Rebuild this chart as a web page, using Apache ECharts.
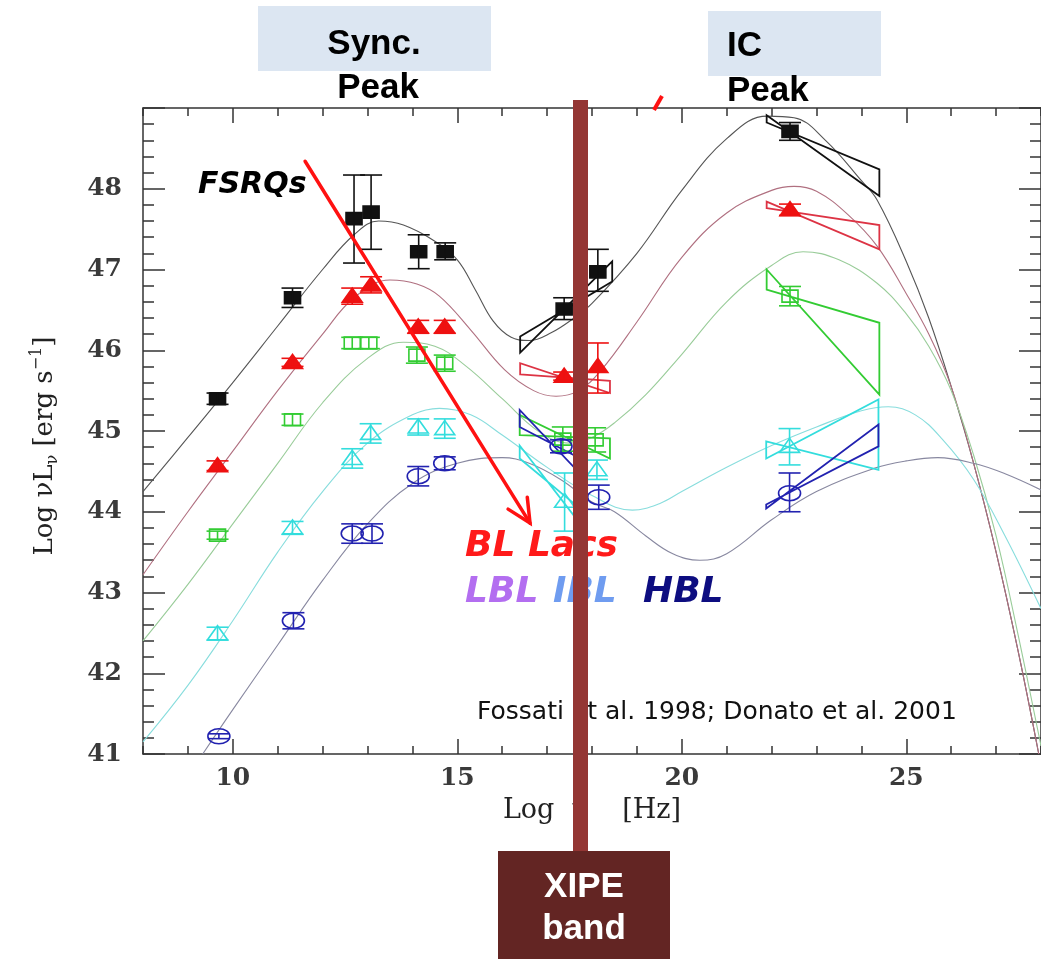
<!DOCTYPE html>
<html>
<head>
<meta charset="utf-8">
<script src="https://cdn.jsdelivr.net/npm/echarts@6/dist/echarts.min.js"></script>
<style>
html,body{margin:0;padding:0;background:#fff;}
#chart{width:1041px;height:959px;}
</style>
</head>
<body>
<div id="chart"></div>
<script>
// ---------- axis ranges / ticks ----------
const X_MIN = 8, X_MAX = 28;
const Y_MIN = 41, Y_MAX = 49;
const X_MAJOR = [10, 15, 20, 25];
const Y_LABELS = [41, 42, 43, 44, 45, 46, 47, 48];

// ---------- data points: [logNu, logL, low, high] ----------
const BLACK_PTS = [[9.66,45.40,45.33,45.47],[11.33,46.65,46.53,46.77],[12.70,47.63,47.08,48.17],[13.08,47.71,47.25,48.17],[14.14,47.22,47.01,47.43],[14.73,47.22,47.12,47.33],[17.38,46.51,46.38,46.65],[18.13,46.97,46.73,47.25],[22.41,48.71,48.60,48.82]];
const RED_PTS = [[9.66,44.57,44.51,44.63],[11.33,45.85,45.80,45.90],[12.66,46.67,46.57,46.77],[13.08,46.81,46.71,46.91],[14.13,46.29,46.21,46.37],[14.72,46.29,46.21,46.37],[17.38,45.68,45.63,45.73],[18.13,45.80,45.47,46.09],[22.41,47.74,47.67,47.81]];
const GREEN_PTS = [[9.66,43.71,43.66,43.76],[11.33,45.14,45.07,45.21],[12.66,46.09,46.02,46.16],[13.03,46.09,46.02,46.16],[14.10,45.94,45.84,46.04],[14.72,45.84,45.74,45.94],[17.35,44.90,44.75,45.05],[18.07,44.89,44.74,45.04],[22.41,46.67,46.55,46.79]];
const CYAN_PTS = [[9.66,42.49,42.41,42.57],[11.33,43.80,43.72,43.88],[12.66,44.66,44.54,44.78],[13.07,44.97,44.85,45.09],[14.13,45.05,44.95,45.15],[14.72,45.03,44.91,45.15],[17.39,44.13,43.76,44.48],[18.11,44.52,44.40,44.64],[22.40,44.81,44.58,45.03]];
const BLUE_PTS = [[9.69,41.22,41.19,41.25],[11.35,42.65,42.55,42.75],[12.66,43.73,43.61,43.85],[13.10,43.73,43.61,43.85],[14.13,44.44,44.32,44.56],[14.72,44.60,44.52,44.68],[17.31,44.81,44.73,44.89],[18.15,44.18,44.03,44.33],[22.40,44.23,44.00,44.48]];

// ---------- spectral "bow-ties": [xLeft, xRight, leftLow, leftHigh, rightLow, rightHigh] ----------
const BLACK_BOWTIES = [[16.40,18.45,45.97,46.17,46.85,47.10],[21.89,24.40,48.82,48.91,47.91,48.24]];
const RED_BOWTIES   = [[16.40,18.40,45.70,45.84,45.47,45.62],[21.89,24.40,47.76,47.84,47.25,47.55]];
const GREEN_BOWTIES = [[16.39,18.40,44.95,45.20,44.66,44.91],[21.89,24.40,46.75,47.00,45.45,46.34]];
const CYAN_BOWTIES  = [[16.39,17.60,44.66,44.82,43.95,44.10],[21.88,24.38,44.66,44.87,44.52,45.39]];
const BLUE_BOWTIES  = [[16.39,17.60,45.05,45.26,44.55,44.70],[21.88,24.38,44.04,44.09,44.81,45.08]];

// ---------- model SED curves: [logNu, logL] ----------
const BLACK_CURVE = [[8,44.25],[9,44.92],[10,45.6],[11,46.3],[12,47.0],[12.7,47.43],[13.25,47.6],[13.8,47.55],[14.5,47.35],[15,47.12],[15.4,46.75],[15.8,46.36],[16.2,46.16],[16.6,46.12],[17.1,46.22],[17.6,46.4],[18,46.58],[19,47.2],[20,47.98],[21,48.62],[21.9,48.9],[22.5,48.88],[23.2,48.6],[24,48.1],[24.35,47.86],[25,47.1],[25.5,46.4],[26,45.55],[26.5,44.6],[27,43.5],[27.5,42.25],[27.95,41.0]];
const RED_CURVE = [[8,43.22],[9,44.0],[10,44.75],[11,45.5],[12,46.2],[12.7,46.65],[13.5,46.87],[14.1,46.82],[14.6,46.67],[15.3,46.25],[16.05,45.76],[16.7,45.5],[17.2,45.43],[17.7,45.5],[18.2,45.75],[19,46.35],[20,47.15],[21,47.7],[22,47.98],[22.5,48.03],[23,47.97],[23.7,47.68],[24.35,47.29],[25,46.7],[25.5,46.2],[26,45.55],[26.5,44.6],[27,43.5],[27.5,42.25],[27.95,41.0]];
const GREEN_CURVE = [[8,42.4],[9,43.1],[10,43.85],[11,44.6],[12,45.35],[13,45.9],[13.8,46.1],[14.5,46.05],[15.2,45.8],[16,45.4],[16.8,45.0],[17.5,44.85],[18,44.92],[18.5,45.1],[19.2,45.45],[20,45.95],[21,46.6],[22,47.05],[22.7,47.22],[23.5,47.12],[24.35,46.83],[25,46.45],[25.5,46.05],[26,45.5],[26.5,44.7],[27,43.7],[27.5,42.45],[28,41.1]];
const CYAN_CURVE = [[8,41.15],[9,41.85],[10,42.65],[11,43.5],[12,44.25],[13,44.85],[14,45.2],[14.6,45.28],[15.3,45.2],[16,44.95],[17,44.55],[18,44.2],[18.9,44.02],[19.5,44.1],[20,44.25],[21,44.55],[22,44.82],[23,45.05],[24,45.25],[24.6,45.3],[25.2,45.2],[25.8,44.9],[26.5,44.4],[27.2,43.7],[28,42.8]];
const BLUE_CURVE = [[9.33,41.0],[10,41.55],[11,42.35],[12,43.15],[13,43.85],[14,44.35],[15,44.6],[16,44.67],[16.6,44.6],[17.3,44.4],[18,44.12],[18.5,44.0],[19.2,43.7],[19.8,43.48],[20.4,43.4],[21,43.48],[22,43.9],[23,44.25],[24.3,44.54],[25,44.63],[25.7,44.67],[26.5,44.6],[27.2,44.47],[28,44.27]];

// ---------- annotation arrow (data coords) ----------
const ARROW = [[11.61, 48.34, 16.62, 43.86]];

const COL = {black:'#111111', red:'#ee1111', green:'#33cc33', cyan:'#33dddd', blue:'#2222b0'};

function pointSeries(data, color, shape, filled) {
  return {
    type: 'custom', coordinateSystem: 'cartesian2d', data: data, z: 6, clip: true,
    encode: {x: 0, y: 1},
    renderItem: function (params, api) {
      const x = api.value(0), y = api.value(1), lo = api.value(2), hi = api.value(3);
      const c = api.coord([x, y]), cl = api.coord([x, lo]), ch = api.coord([x, hi]);
      const cw = 11, ls = {stroke: color, lineWidth: 1.6};
      const kids = [];
      let mk;
      if (shape === 'rect') {
        mk = {type: 'rect', shape: {x: c[0] - 8, y: c[1] - 6, width: 16, height: 12}};
      } else if (shape === 'tri') {
        mk = {type: 'polygon', shape: {points: [[c[0] - 10, c[1] + 6], [c[0] + 10, c[1] + 6], [c[0], c[1] - 8]]}};
      } else {
        mk = {type: 'ellipse', shape: {cx: c[0], cy: c[1], rx: 11, ry: 7.5}};
      }
      mk.style = {fill: filled ? color : 'transparent', stroke: color, lineWidth: 1.6};
      kids.push(mk);
      kids.push({type: 'line', shape: {x1: c[0], y1: cl[1], x2: c[0], y2: ch[1]}, style: ls});
      kids.push({type: 'line', shape: {x1: c[0] - cw, y1: cl[1], x2: c[0] + cw, y2: cl[1]}, style: ls});
      kids.push({type: 'line', shape: {x1: c[0] - cw, y1: ch[1], x2: c[0] + cw, y2: ch[1]}, style: ls});
      return {type: 'group', children: kids};
    }
  };
}

function bowtieSeries(data, color) {
  return {
    type: 'custom', coordinateSystem: 'cartesian2d', data: data, z: 5, clip: true,
    encode: {x: [0, 1], y: [2, 3, 4, 5]},
    renderItem: function (params, api) {
      const xl = api.value(0), xr = api.value(1);
      const p1 = api.coord([xl, api.value(2)]);
      const p2 = api.coord([xr, api.value(5)]);
      const p3 = api.coord([xr, api.value(4)]);
      const p4 = api.coord([xl, api.value(3)]);
      return {type: 'polygon', shape: {points: [p1, p2, p3, p4]},
        style: {fill: 'transparent', stroke: color, lineWidth: 1.8}};
    }
  };
}

function curveSeries(data, color) {
  return {type: 'line', data: data, showSymbol: false, smooth: 0.4, z: 3, clip: true,
    lineStyle: {color: color, width: 1.1}, silent: true};
}

const arrowSeries = {
  type: 'custom', coordinateSystem: 'cartesian2d', data: ARROW, z: 8, clip: false,
  encode: {x: [0, 2], y: [1, 3]},
  renderItem: function (params, api) {
    const a = api.coord([api.value(0), api.value(1)]);
    const b = api.coord([api.value(2), api.value(3)]);
    const ang = Math.atan2(b[1] - a[1], b[0] - a[0]);
    const L = 26, w = 0.45;
    const h1 = [b[0] - L * Math.cos(ang - w), b[1] - L * Math.sin(ang - w)];
    const h2 = [b[0] - L * Math.cos(ang + w), b[1] - L * Math.sin(ang + w)];
    const st = {stroke: '#ff1111', lineWidth: 3.5, lineCap: 'round', fill: 'transparent'};
    return {type: 'group', children: [
      {type: 'line', shape: {x1: a[0], y1: a[1], x2: b[0], y2: b[1]}, style: st},
      {type: 'polyline', shape: {points: [h1, b, h2]}, style: st}
    ]};
  }
};

const serifFont = 'DejaVu Serif';
const axisLineStyle = {color: '#333', width: 1.5};
const tickLabelStyle = {fontFamily: serifFont, fontSize: 25, fontWeight: 'bold', color: '#3a3a3a'};

const chart = echarts.init(document.getElementById('chart'), null, {renderer: 'canvas'});
const option = {
  backgroundColor: '#ffffff',
  animation: false,
  grid: {left: 143, top: 108, width: 902, height: 646, containLabel: false},
  xAxis: [
    {type: 'value', position: 'bottom', min: X_MIN, max: X_MAX, interval: 1,
     axisLine: {show: true, lineStyle: axisLineStyle}, splitLine: {show: false},
     axisTick: {show: true, inside: true, length: 8, lineStyle: {color: '#333', width: 1.5}},
     axisLabel: Object.assign({show: true, customValues: X_MAJOR, margin: 12}, tickLabelStyle),
     name: 'Log  \u03bd    [Hz]', nameLocation: 'middle', nameGap: 43,
     nameTextStyle: {fontFamily: serifFont, fontSize: 27, color: '#222'}},
    {type: 'value', position: 'bottom', min: X_MIN, max: X_MAX, interval: 1,
     axisLine: {show: false}, splitLine: {show: false}, axisLabel: {show: false},
     axisTick: {show: true, inside: true, length: 15, customValues: X_MAJOR, lineStyle: {color: '#333', width: 1.5}}},
    {type: 'value', position: 'top', min: X_MIN, max: X_MAX, interval: 1,
     axisLine: {show: true, lineStyle: axisLineStyle}, splitLine: {show: false}, axisLabel: {show: false},
     axisTick: {show: true, inside: true, length: 8, lineStyle: {color: '#333', width: 1.5}}},
    {type: 'value', position: 'top', min: X_MIN, max: X_MAX, interval: 1,
     axisLine: {show: false}, splitLine: {show: false}, axisLabel: {show: false},
     axisTick: {show: true, inside: true, length: 15, customValues: X_MAJOR, lineStyle: {color: '#333', width: 1.5}}}
  ],
  yAxis: [
    {type: 'value', position: 'left', min: Y_MIN, max: Y_MAX, interval: 1,
     axisLine: {show: true, lineStyle: axisLineStyle}, splitLine: {show: false},
     axisTick: {show: true, inside: true, length: 22, lineStyle: {color: '#333', width: 1.5}},
     minorTick: {show: true, splitNumber: 5, length: 11, lineStyle: {color: '#333', width: 1.5}},
     axisLabel: Object.assign({show: true, margin: 21,
       formatter: function (v) { return Y_LABELS.indexOf(v) >= 0 ? String(v) : ''; }}, tickLabelStyle),
     name: '{n|Log \u03bdL}{s|\u03bd}{n| [erg s}{p|\u22121}{n|]}', nameLocation: 'middle', nameGap: 82, nameRotate: 90,
     nameTextStyle: {padding: [0, 30, 0, 0], rich: {
       n: {fontFamily: serifFont, fontSize: 26, color: '#222', lineHeight: 32},
       s: {fontFamily: serifFont, fontSize: 16, color: '#222', lineHeight: 15, verticalAlign: 'bottom'},
       p: {fontFamily: serifFont, fontSize: 16, color: '#222', lineHeight: 15, verticalAlign: 'top'}
     }}},
    {type: 'value', position: 'right', min: Y_MIN, max: Y_MAX, interval: 1,
     axisLine: {show: true, lineStyle: axisLineStyle}, splitLine: {show: false}, axisLabel: {show: false},
     axisTick: {show: true, inside: true, length: 22, lineStyle: {color: '#333', width: 1.5}},
     minorTick: {show: true, splitNumber: 5, length: 11, lineStyle: {color: '#333', width: 1.5}}}
  ],
  series: [
    curveSeries(BLACK_CURVE, '#555555'),
    curveSeries(RED_CURVE, '#b07080'),
    curveSeries(GREEN_CURVE, '#99cc99'),
    curveSeries(CYAN_CURVE, '#88dddd'),
    curveSeries(BLUE_CURVE, '#8888a0'),
    bowtieSeries(BLACK_BOWTIES, COL.black),
    bowtieSeries(RED_BOWTIES, '#dd3344'),
    bowtieSeries(GREEN_BOWTIES, COL.green),
    bowtieSeries(CYAN_BOWTIES, COL.cyan),
    bowtieSeries(BLUE_BOWTIES, COL.blue),
    pointSeries(BLACK_PTS, COL.black, 'rect', true),
    pointSeries(RED_PTS, COL.red, 'tri', true),
    pointSeries(GREEN_PTS, COL.green, 'rect', false),
    pointSeries(CYAN_PTS, COL.cyan, 'tri', false),
    pointSeries(BLUE_PTS, COL.blue, 'circ', false),
    arrowSeries
  ],
  graphic: [
    {type: 'text', z: 50, x: 198, y: 185, style: {text: 'FSRQs', fill: '#000', font: 'italic bold 30px "DejaVu Sans"', verticalAlign: 'middle'}},
    {type: 'text', z: 50, x: 465, y: 547, style: {text: 'BL Lacs', fill: '#ff1a1a', font: 'italic bold 36px "DejaVu Sans"', verticalAlign: 'middle'}},
    {type: 'text', z: 50, x: 465, y: 593, style: {text: 'LBL', fill: '#b36ef0', font: 'italic bold 36px "DejaVu Sans"', verticalAlign: 'middle'}},
    {type: 'text', z: 50, x: 553, y: 593, style: {text: 'IBL', fill: '#6f9cf0', font: 'italic bold 36px "DejaVu Sans"', verticalAlign: 'middle'}},
    {type: 'text', z: 50, x: 643, y: 593, style: {text: 'HBL', fill: '#0d0d80', font: 'italic bold 36px "DejaVu Sans"', verticalAlign: 'middle'}},
    {type: 'text', z: 50, x: 477, y: 712, style: {text: 'Fossati et al. 1998; Donato et al. 2001', fill: '#111', font: '25px "DejaVu Sans"', verticalAlign: 'middle'}},
    {type: 'rect', z: 60, shape: {x: 258, y: 6, width: 233, height: 65}, style: {fill: '#dce6f2'}},
    {type: 'text', z: 61, x: 374, y: 44, style: {text: 'Sync.', fill: '#000', font: 'bold 35px "Liberation Sans"', align: 'center', verticalAlign: 'middle'}},
    {type: 'text', z: 61, x: 378, y: 88, style: {text: 'Peak', fill: '#000', font: 'bold 35px "Liberation Sans"', align: 'center', verticalAlign: 'middle'}},
    {type: 'rect', z: 60, shape: {x: 708, y: 11, width: 173, height: 65}, style: {fill: '#dce6f2'}},
    {type: 'text', z: 61, x: 727, y: 46, style: {text: 'IC', fill: '#000', font: 'bold 35px "Liberation Sans"', verticalAlign: 'middle'}},
    {type: 'text', z: 61, x: 727, y: 91, style: {text: 'Peak', fill: '#000', font: 'bold 35px "Liberation Sans"', verticalAlign: 'middle'}},
    {type: 'line', z: 70, shape: {x1: 654, y1: 110, x2: 662, y2: 96}, style: {stroke: '#ff1111', lineWidth: 4}},
    {type: 'rect', z: 100, shape: {x: 573, y: 100, width: 15, height: 752}, style: {fill: '#943634'}},
    {type: 'rect', z: 101, shape: {x: 498, y: 851, width: 172, height: 108}, style: {fill: '#632523'}},
    {type: 'text', z: 102, x: 584, y: 887, style: {text: 'XIPE', fill: '#fff', font: 'bold 35px "Liberation Sans"', align: 'center', verticalAlign: 'middle'}},
    {type: 'text', z: 102, x: 584, y: 929, style: {text: 'band', fill: '#fff', font: 'bold 35px "Liberation Sans"', align: 'center', verticalAlign: 'middle'}}
  ]
};
chart.setOption(option);
</script>
</body>
</html>
